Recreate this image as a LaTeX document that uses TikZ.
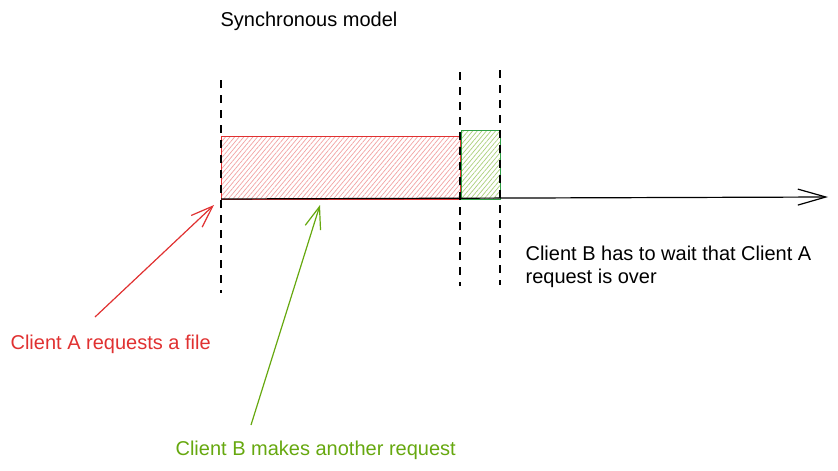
\documentclass[tikz,border=0pt]{standalone}
\usepackage{fontspec}
\setmainfont{Liberation Sans}
\usetikzlibrary{arrows.meta,patterns.meta}
\definecolor{sketchred}{HTML}{E03131}
\definecolor{sketchgreen}{HTML}{66A80F}
\definecolor{boxgreen}{HTML}{2F9E44}
\begin{document}
\begin{tikzpicture}[x=1pt,y=-1pt,font=\fontsize{20}{23}\selectfont,line width=1.2pt,
    lbl/.style={anchor=west,inner sep=0pt,align=left},
    hatch/.style={pattern={Lines[angle=50,distance=3.5pt,line width=0.7pt]},pattern color=#1},
    tip/.style={-{Straight Barb[length=#1,width=16pt,line width=1.2pt]}},
    tip/.default=22pt]
  \useasboundingbox (0,0) rectangle (838,471);
  % time line
  \coordinate (t0) at (221,199);
  \coordinate (tend) at (828,197);
  \node[draw=sketchred,hatch=sketchred!45,inner sep=0pt,anchor=north west,
    minimum width=239pt,minimum height=63pt] (reqA) at (221,136) {};
  \node[draw=boxgreen,hatch=sketchgreen!55,inner sep=0pt,anchor=north west,
    minimum width=39pt,minimum height=69pt] (reqB) at (461,130) {};
  \foreach \x/\top/\bot in {221/80/293, 460/72/286, 500/70/285}
    \draw[line width=1.5pt,dash pattern=on 8pt off 7pt] (\x,\top) -- (\x,\bot);
  \draw[tip=28pt] (t0) -- (tend);
  % labels
  \node[lbl] (title) at (220,21) {Synchronous model};
  \node[lbl,text=sketchred] (labA) at (10,344) {Client A requests a file};
  \node[lbl,text=sketchgreen] (labB) at (175,450) {Client B makes another request};
  \node[lbl] (wait) at (525,267) {Client B has to wait that Client A\\request is over};
  % pointers
  \coordinate (hitA) at (214,205);
  \coordinate (hitB) at (320,205);
  \draw[tip,sketchred] (95,317) -- (hitA);
  \draw[tip,sketchgreen] (251,425) -- (hitB);
\end{tikzpicture}
\end{document}
